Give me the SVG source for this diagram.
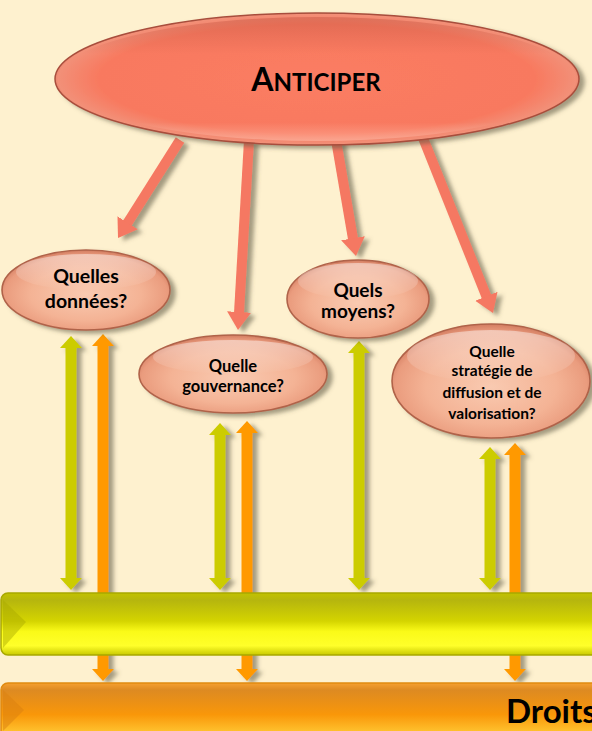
<svg xmlns="http://www.w3.org/2000/svg" width="592" height="731" viewBox="0 0 592 731">
<defs>
<style>
.t{font-family:"Lato","Liberation Sans",sans-serif;font-weight:bold;fill:#000;text-anchor:middle}
.red{stroke:#F57862;stroke-width:10;fill:none;marker-end:url(#rh)}
.grn{stroke:#CCCC00;stroke-width:11;fill:none;marker-start:url(#gh);marker-end:url(#gh)}
.org{stroke:#FF9900;stroke-width:11;fill:none;marker-start:url(#oh);marker-end:url(#oh)}
.node{fill:url(#peach);stroke:#B0634A;stroke-width:1.6}
</style>
<filter id="sh" x="-20%" y="-20%" width="150%" height="150%">
<feGaussianBlur in="SourceAlpha" stdDeviation="2.2"/>
<feOffset dx="5" dy="3" result="b"/>
<feFlood flood-color="#5a5540" flood-opacity="0.55"/>
<feComposite in2="b" operator="in"/>
<feMerge><feMergeNode/><feMergeNode in="SourceGraphic"/></feMerge>
</filter>
<marker id="rh" markerUnits="userSpaceOnUse" markerWidth="18" markerHeight="24" refX="1" refY="12" orient="auto"><path d="M0,0 L18,12 L0,24 z" fill="#F57862"/></marker>
<marker id="gh" markerUnits="userSpaceOnUse" markerWidth="12" markerHeight="22" refX="1" refY="11" orient="auto-start-reverse"><path d="M0,0 L12,11 L0,22 z" fill="#CCCC00"/></marker>
<marker id="oh" markerUnits="userSpaceOnUse" markerWidth="12" markerHeight="22" refX="1" refY="11" orient="auto-start-reverse"><path d="M0,0 L12,11 L0,22 z" fill="#FF9900"/></marker>
<radialGradient id="peach" cx="50%" cy="55%" r="55%">
<stop offset="0" stop-color="#F9CAB1"/>
<stop offset="0.6" stop-color="#F4B395"/>
<stop offset="0.88" stop-color="#EA9C7E"/>
<stop offset="1" stop-color="#D27C60"/>
</radialGradient>
<linearGradient id="gloss" x1="0" y1="0" x2="0" y2="1">
<stop offset="0" stop-color="#fff" stop-opacity="0.45"/>
<stop offset="1" stop-color="#fff" stop-opacity="0"/>
</linearGradient>
<radialGradient id="redg" cx="50%" cy="50%" r="52%">
<stop offset="0" stop-color="#FB7C63"/>
<stop offset="0.8" stop-color="#F8795F"/>
<stop offset="0.95" stop-color="#F29078"/>
<stop offset="1" stop-color="#C8604A"/>
</radialGradient>
<linearGradient id="redtop" x1="0" y1="0" x2="0" y2="1">
<stop offset="0" stop-color="#C85A46" stop-opacity="0.5"/>
<stop offset="0.3" stop-color="#C85A46" stop-opacity="0"/>
<stop offset="0.85" stop-color="#FFB8A5" stop-opacity="0"/>
<stop offset="1" stop-color="#FFB8A5" stop-opacity="0.6"/>
</linearGradient>
<linearGradient id="gbar" x1="0" y1="0" x2="0" y2="1">
<stop offset="0" stop-color="#C2C200"/>
<stop offset="0.12" stop-color="#B6B60E"/>
<stop offset="0.45" stop-color="#D4D400"/>
<stop offset="0.62" stop-color="#FAFA18"/>
<stop offset="0.85" stop-color="#FFFF2A"/>
<stop offset="1" stop-color="#C9C900"/>
</linearGradient>
<linearGradient id="obar" x1="0" y1="0" x2="0" y2="1">
<stop offset="0" stop-color="#F6A030"/>
<stop offset="0.1" stop-color="#DD8A22"/>
<stop offset="0.45" stop-color="#F99709"/>
<stop offset="0.7" stop-color="#FFC22E"/>
<stop offset="1" stop-color="#FFE040"/>
</linearGradient>
</defs>
<rect width="592" height="731" fill="#FEF1CF"/>

<g id="connectors">
<g filter="url(#sh)">
<line class="red" x1="180" y1="140" x2="127.1" y2="223.6"/>
<line class="red" x1="249" y1="140" x2="239" y2="313"/>
<line class="red" x1="336" y1="140" x2="353.1" y2="239.3"/>
<line class="red" x1="423" y1="138" x2="486.7" y2="297.2"/>
</g>
<g filter="url(#sh)">
<line class="grn" x1="71" y1="347" x2="71" y2="579"/>
<line class="org" x1="103" y1="345" x2="103" y2="670"/>
<line class="grn" x1="220" y1="434" x2="220" y2="579"/>
<line class="org" x1="247" y1="432" x2="247" y2="670"/>
<line class="grn" x1="359" y1="352" x2="359" y2="579"/>
<line class="grn" x1="490" y1="458" x2="490" y2="579"/>
<line class="org" x1="515" y1="454" x2="515" y2="670"/>
</g>
</g>

<g id="anticiper">
<ellipse cx="317" cy="79" rx="262" ry="66" fill="url(#redg)" stroke="#A84E3C" stroke-width="1.5" filter="url(#sh)"/>
<ellipse cx="317" cy="79" rx="258" ry="62" fill="url(#redtop)"/>
<text class="t" x="316" y="91"><tspan font-size="32">A</tspan><tspan font-size="24">NTICIPER</tspan></text>
</g>

<g id="donnees">
<ellipse class="node" cx="86" cy="290" rx="84" ry="40" filter="url(#sh)"/>
<ellipse cx="86" cy="272" rx="70" ry="18" fill="url(#gloss)"/>
<text class="t" font-size="19.5" x="86" y="283">Quelles</text>
<text class="t" font-size="19.5" x="86" y="308">données?</text>
</g>

<g id="gouvernance">
<ellipse class="node" cx="233" cy="374" rx="94" ry="39" filter="url(#sh)"/>
<ellipse cx="233" cy="357" rx="80" ry="17" fill="url(#gloss)"/>
<text class="t" font-size="16.5" x="233" y="372">Quelle</text>
<text class="t" font-size="16.5" x="233" y="392">gouvernance?</text>
</g>

<g id="moyens">
<ellipse class="node" cx="358" cy="299" rx="71" ry="39" filter="url(#sh)"/>
<ellipse cx="358" cy="281" rx="60" ry="18" fill="url(#gloss)"/>
<text class="t" font-size="19" x="358" y="297">Quels</text>
<text class="t" font-size="19" x="358" y="318">moyens?</text>
</g>

<g id="strategie">
<ellipse class="node" cx="491" cy="381" rx="99" ry="57" filter="url(#sh)"/>
<ellipse cx="491" cy="356" rx="84" ry="26" fill="url(#gloss)"/>
<text class="t" font-size="15.5" x="492" y="357">Quelle</text>
<text class="t" font-size="15.5" x="492" y="376">stratégie de</text>
<text class="t" font-size="15.5" x="492" y="398">diffusion et de</text>
<text class="t" font-size="15.5" x="492" y="419">valorisation?</text>
</g>

<g id="barre-verte">
<rect x="1" y="593" width="620" height="62" rx="7" fill="url(#gbar)" stroke="#A8A800" stroke-width="1.5"/>
<path d="M3,600 L26,622 L3,648 z" fill="#A8A800" opacity="0.45"/>
</g>

<g id="barre-orange">
<rect x="1" y="683" width="620" height="70" rx="7" fill="url(#obar)" stroke="#E08A10" stroke-width="1.5"/>
<path d="M3,690 L24,710 L3,731 z" fill="#D98010" opacity="0.5"/>
<text class="t" font-size="33" x="506" y="723" style="text-anchor:start">Droits</text>
</g>
</svg>
